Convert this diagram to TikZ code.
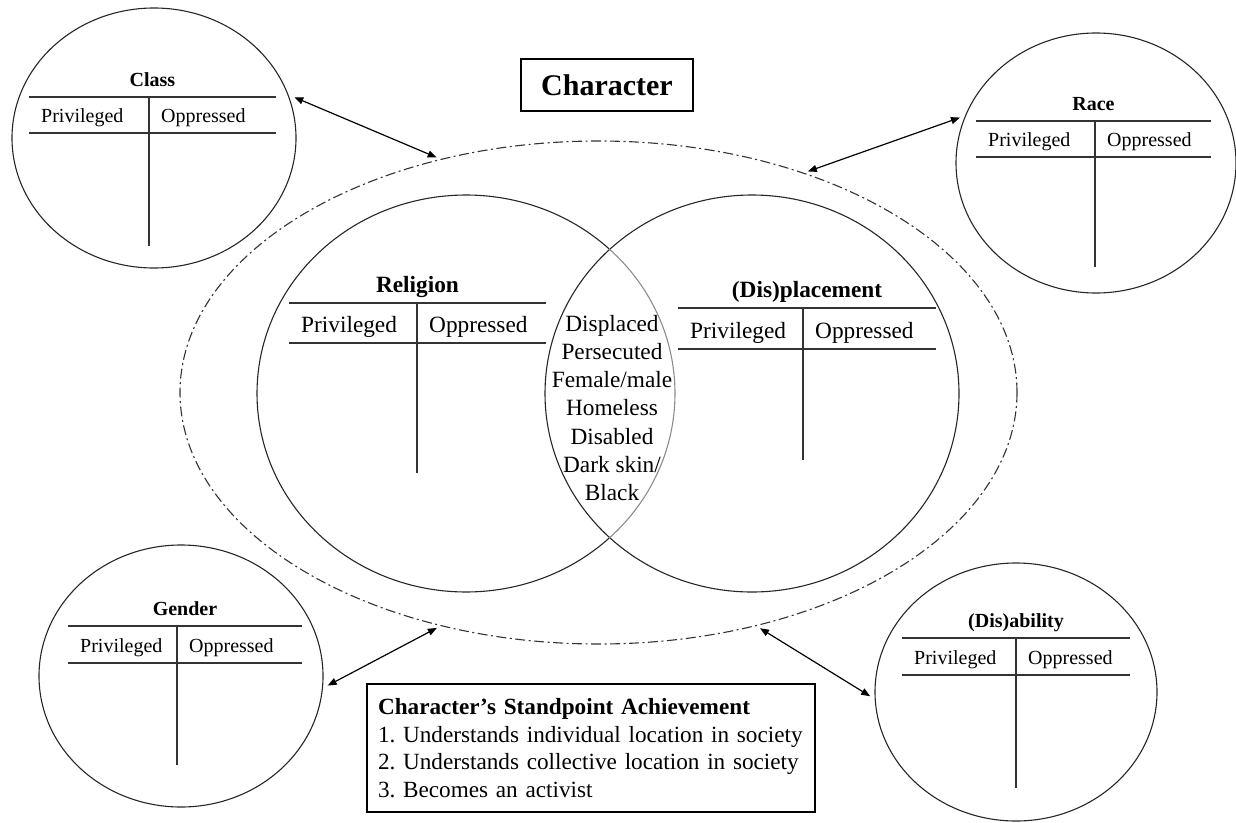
\documentclass[tikz,border=0pt]{standalone}
\usepackage{fontspec}
\setmainfont{Liberation Serif}
\usetikzlibrary{shapes.geometric,arrows.meta}

% T-chart: #1 name prefix, #2 title, #3 left x, #4 divider x, #5 right x,
% #6 top rule y, #7 header rule y, #8 divider foot y, #9 font size
\newcommand\tchart[9]{%
  \draw[rule] (#3,#6) -- (#5,#6);
  \draw[rule] (#3,#7) -- (#5,#7);
  \draw[rule] (#4,#6) -- (#4,#8);
  \node[lbl, anchor=base, font=\fontsize{#9}{#9}\selectfont\bfseries] (#1-t) at ({(#3+#5)/2},{#6-11}) {#2};
  \node[lbl, anchor=base west, font=\fontsize{#9}{#9}\selectfont] (#1-p) at ({#3+12},{#7-11}) {Privileged};
  \node[lbl, anchor=base west, font=\fontsize{#9}{#9}\selectfont] (#1-o) at ({#4+12},{#7-11}) {Oppressed};
}

\tikzset{
  disc/.style={ellipse, draw=black!85, line width=1.1pt, inner sep=0pt, outer sep=0pt},
  rule/.style={draw=black!80, line width=1.8pt},
  lbl/.style={inner sep=0pt},
  boxed/.style={draw=black, line width=1.6pt, rectangle},
  biarrow/.style={line width=1.2pt, {Triangle[length=9pt,width=7pt]}-{Triangle[length=9pt,width=7pt]}},
  dashdot/.style={draw=black!80, line width=1.1pt, dash pattern=on 10pt off 3.5pt on 2pt off 3.5pt},
}

\begin{document}
\begin{tikzpicture}[x=1pt, y=-1pt]
\useasboundingbox (0,0) rectangle (1236,822);

% enclosing dash-dot ellipse
\node[ellipse, dashdot, inner sep=0pt, outer sep=0pt, minimum width=837pt, minimum height=503pt] (big) at (598.5,392.5) {};

% Venn circles
\node[disc, minimum width=414pt, minimum height=397pt] (displ) at (752,393.5) {};
\node[ellipse, inner sep=0pt, outer sep=0pt, minimum width=418pt, minimum height=397pt] (relig) at (466,393.5) {};
\draw[draw=black!85, line width=1.1pt] (relig.center) ++(46.8:209pt and 198.5pt)
  arc[start angle=46.8, end angle=313.2, x radius=209pt, y radius=198.5pt];
\draw[draw=black!45, line width=1.1pt] (relig.center) ++(-46.8:209pt and 198.5pt)
  arc[start angle=-46.8, end angle=46.8, x radius=209pt, y radius=198.5pt];

% outer circles
\node[disc, minimum width=284pt, minimum height=260pt] (class) at (154,138) {};
\node[disc, minimum width=280pt, minimum height=260pt] (race) at (1096,163) {};
\node[disc, minimum width=284pt, minimum height=262pt] (gender) at (181,676) {};
\node[disc, minimum width=282pt, minimum height=258pt] (disab) at (1016,692) {};

% T-charts
\tchart{cl}{Class}{29}{149}{276}{97}{133}{246}{20}
\tchart{ra}{Race}{976}{1095}{1211}{121}{157}{267}{20}
\tchart{ge}{Gender}{68}{177}{302}{626}{663}{765}{20}
\tchart{di}{(Dis)ability}{902}{1016}{1130}{638}{675}{788}{20}
\tchart{re}{Religion}{289}{417}{546}{303}{343}{473}{23.3}
\tchart{dp}{(Dis)placement}{678}{803}{936}{308}{349}{460}{23.3}

% overlap list
\node[lbl, align=center, font=\fontsize{23.3}{28.3}\selectfont] (overlap) at (612,408)
  {Displaced\\Persecuted\\Female/male\\Homeless\\Disabled\\Dark skin/\\Black};

% title box
\node[boxed, minimum width=172pt, minimum height=52pt, inner sep=0pt,
  font=\fontsize{30}{36}\selectfont\bfseries] (charbox) at (607,85) {Character};

% standpoint box
\node[boxed, text width=426pt, inner xsep=11pt, inner ysep=0pt, minimum height=128pt, align=left,
  font=\fontsize{23.2}{27.7}\selectfont\frenchspacing] (stand) at (591,748)
  {\textbf{Character’s Standpoint Achievement}\\
   1. Understands individual location in society\\
   2. Understands collective location in society\\
   3. Becomes an activist};

% connectors
\draw[biarrow, shorten <=7pt, shorten >=5pt] (class.18) -- (big.124);
\draw[biarrow, shorten <=6pt, shorten >=5pt] (race.160) -- (big.47);
\draw[biarrow, shorten <=6pt, shorten >=5pt] (gender.355.3) -- (big.236);
\draw[biarrow, shorten <=6pt, shorten >=5pt] (disab.183.7) -- (big.304.3);
\end{tikzpicture}
\end{document}
